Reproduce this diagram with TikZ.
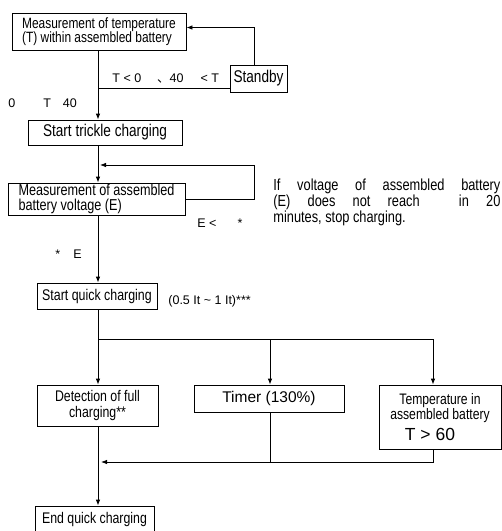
\documentclass[tikz,border=0pt]{standalone}
\usepackage{fontspec}
\setmainfont{Liberation Sans}
\newfontfamily\narrowfont{Liberation Sans}[FakeStretch=0.8]
\newfontfamily\cjk{Noto Sans CJK SC}
\usetikzlibrary{arrows.meta}
\newcommand{\boxfont}[2]{\narrowfont\fontsize{#1}{#2}\selectfont}

\begin{document}
\begin{tikzpicture}[x=1pt,y=-1pt,line width=0.8pt,>={Latex[length=6pt,width=4.5pt]}]
	\useasboundingbox (0,0) rectangle (502,531);
	
	\begin{scope}[every node/.style={rectangle,draw,inner sep=0pt,font=\boxfont{15}{14}}]
	\node[minimum width=174,minimum height=37,align=left,font=\boxfont{14.9}{14.5}] (node temp) at (99,31.5) {Measurement of temperature\\(T) within assembled battery};
	\node[minimum width=57,minimum height=27,font=\boxfont{17}{17}] (node standby) at (258.5,78.5) {Standby};
	\node[minimum width=154,minimum height=25,font=\boxfont{17}{17}] (node trickle) at (105,132.5) {Start trickle charging};
	\node[minimum width=177,minimum height=32,align=left,font=\boxfont{15.8}{15.5}] (node voltage) at (96.5,199) {Measurement of assembled\\battery voltage (E)};
	\node[minimum width=120,minimum height=26,font=\boxfont{15.5}{15.5}] (node quick) at (97,296) {Start quick charging};
	\node[minimum width=121,minimum height=41,align=center,font=\boxfont{15.4}{15.4}] (node detect) at (97.5,405.5) {Detection of full\\charging**};
	\node[minimum width=150,minimum height=27,font=\fontsize{15.5}{15.5}\selectfont] (node timer) at (269,398.5) {Timer (130\%)};
	\node[minimum width=122,minimum height=64,align=center,font=\boxfont{15.2}{15}] (node temp batt) at (440,417) {Temperature in\\assembled battery\\[5pt]{\normalfont\fontsize{17.5}{17.5}\selectfont T > 60}\hspace*{20pt}};
	\node[minimum width=119,minimum height=28,font=\boxfont{15.4}{15.4}] (node end) at (94.5,520) {End quick charging};
	\end{scope}
	
	\begin{scope}[every node/.style={inner sep=0pt,anchor=base west,font=\fontsize{12.5}{12.5}\selectfont}]
	\node (label standby) at (112,82) {T < 0\hspace{16pt}{\cjk 、}40\hspace{17pt}< T};
	\node (label range) at (8,107) {0\hspace{28pt}T\hspace{12pt}40};
	\node (label low) at (197,227) {E <\hspace{21pt}*};
	\node (label high) at (55,258) {*\hspace{13pt}E};
	\node (label current) at (168,304) {(0.5 It \textasciitilde{} 1 It)***};
	\node[anchor=north west,align=left,font=\boxfont{16}{13.8}] (note) at (273,179) {\makebox[227pt][s]{If voltage of assembled battery}\\\makebox[227pt][s]{(E) does not reach\hspace{22pt} in 20}\\minutes, stop charging.};
	\end{scope}
	
	\begin{scope}
	\coordinate (col) at (98,0);
	\coordinate (split standby) at (98,88);
	\coordinate (loop voltage) at (254,165);
	\coordinate (loop end) at (100,165);
	\coordinate (fork) at (98,339);
	\coordinate (fork timer) at (270,339);
	\coordinate (fork temp) at (433,339);
	\coordinate (join) at (101,462);
	
	\draw [->] (col |- node temp.south) -- (col |- node trickle.north);
	\draw (split standby) -- (split standby -| node standby.west);
	\draw [->] ([xshift=-4pt]node standby.north) |- ([yshift=4pt]node temp.east);
	\draw [->] (col |- node trickle.south) -- (col |- node voltage.north);
	\draw [->] (node voltage.east) -| (loop voltage) -- (loop end);
	\draw [->] (col |- node voltage.south) -- (col |- node quick.north);
	\draw (col |- node quick.south) -- (fork) -- (fork temp);
	\draw [->] (fork) -- (col |- node detect.north);
	\draw [->] (fork timer) -- (fork timer |- node timer.north);
	\draw [->] (fork temp) -- (fork temp |- node temp batt.north);
	\draw [->] (fork temp |- node temp batt.south) |- (join);
	\draw (fork timer |- node timer.south) -- (fork timer |- join);
	\draw [->] (col |- node detect.south) -- (col |- node end.north);
	\end{scope}
	
\end{tikzpicture}
\end{document}
